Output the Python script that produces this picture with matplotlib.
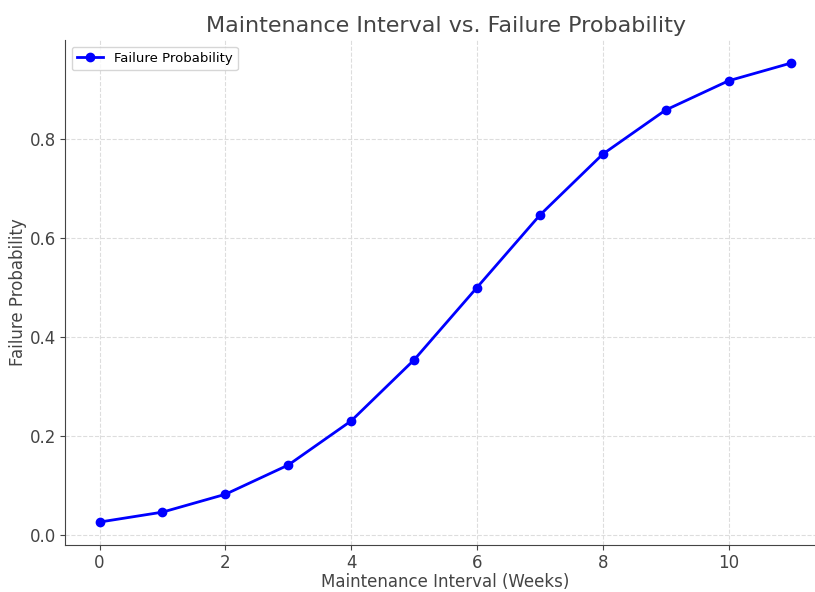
import numpy as np
import matplotlib
matplotlib.use("Agg")
import matplotlib.pyplot as plt

# データ
weeks = [0, 1, 2, 3, 4, 5, 6, 7, 8, 9, 10, 11]
failure_prob = [0.027, 0.047, 0.083, 0.142, 0.231, 0.354, 0.500, 0.646, 0.769, 0.858, 0.917, 0.953]

plt.rcParams['font.family'] = ['DejaVu Sans']

fig = plt.figure(figsize=(8.15, 5.92), dpi=100)
ax = fig.add_axes([65 / 815, 47 / 592, 761 / 815, 505 / 592])

ax.plot(weeks, failure_prob, color="blue", marker="o", markersize=6,
        linewidth=2, label="Failure Probability")

ax.set_title("Maintenance Interval vs. Failure Probability", fontsize=16, color="#444444")
ax.set_xlabel("Maintenance Interval (Weeks)", fontsize=12, color="#444444", labelpad=1)
ax.set_ylabel("Failure Probability", fontsize=12, color="#444444", labelpad=2)
ax.set_xticks(range(0, 12, 2))
ax.set_yticks([0.0, 0.2, 0.4, 0.6, 0.8])
ax.tick_params(labelsize=12, colors="#444444", pad=3)
ax.grid(True, linestyle="--", color="#dddddd", linewidth=0.8)
ax.spines["top"].set_visible(False)
ax.spines["right"].set_visible(False)
ax.spines["left"].set_color("#444444")
ax.spines["bottom"].set_color("#444444")
ax.legend(loc="upper left", fontsize=9.5)

fig.savefig("out.png", dpi=100)
